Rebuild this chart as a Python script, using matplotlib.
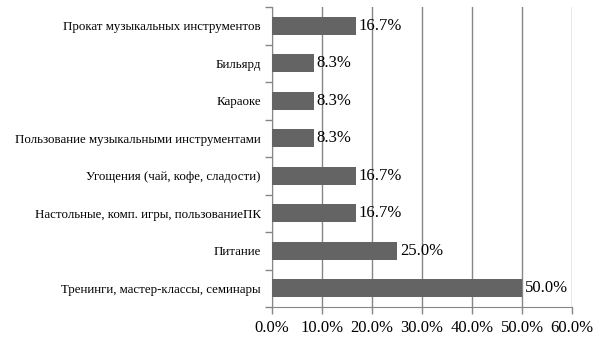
import numpy as np
import matplotlib
matplotlib.use("Agg")
import matplotlib.pyplot as plt
from matplotlib.ticker import FixedLocator, FuncFormatter

categories = [
    "Тренинги, мастер-классы, семинары",
    "Питание",
    "Настольные, комп. игры, пользованиеПК",
    "Угощения (чай, кофе, сладости)",
    "Пользование музыкальными инструментами",
    "Караоке",
    "Бильярд",
    "Прокат музыкальных инструментов",
]
shares = [50.0, 25.0, 16.7, 16.7, 8.3, 8.3, 8.3, 16.7]
x_ticks = [0, 10, 20, 30, 40, 50, 60]

plt.rcParams["font.family"] = ["Liberation Serif", "DejaVu Serif"]

fig = plt.figure(figsize=(6.05, 3.4), dpi=100)
ax = fig.add_axes([272 / 605, 33 / 340, 300 / 605, 300 / 340])

y = np.arange(len(categories))
ax.barh(y, shares, height=0.48, color="#646464", zorder=3)

for yi, v in zip(y, shares):
    ax.text(v + 0.6, yi, f"{v:.1f}%", va="center", ha="left", fontsize=12, zorder=4)

ax.set_xlim(0, 60)
ax.set_ylim(-0.5, len(categories) - 0.5)
ax.set_xticks(x_ticks)
ax.xaxis.set_major_formatter(FuncFormatter(lambda v, p: f"{v:.1f}%"))
ax.tick_params(axis="x", labelsize=12, length=5, color="#868686", width=1, pad=4)

ax.set_yticks(y)
ax.set_yticklabels(categories, fontsize=9.3)
ax.tick_params(axis="y", which="major", length=0, pad=8)
ax.yaxis.set_minor_locator(FixedLocator(np.arange(-0.5, len(categories), 1.0)))
ax.tick_params(axis="y", which="minor", length=5, color="#868686", width=1)

ax.grid(axis="x", color="#868686", linewidth=1, zorder=0)
for side in ["top", "right"]:
    ax.spines[side].set_visible(False)
for side in ["left", "bottom"]:
    ax.spines[side].set_color("#868686")

fig.savefig("out.png", dpi=100)
